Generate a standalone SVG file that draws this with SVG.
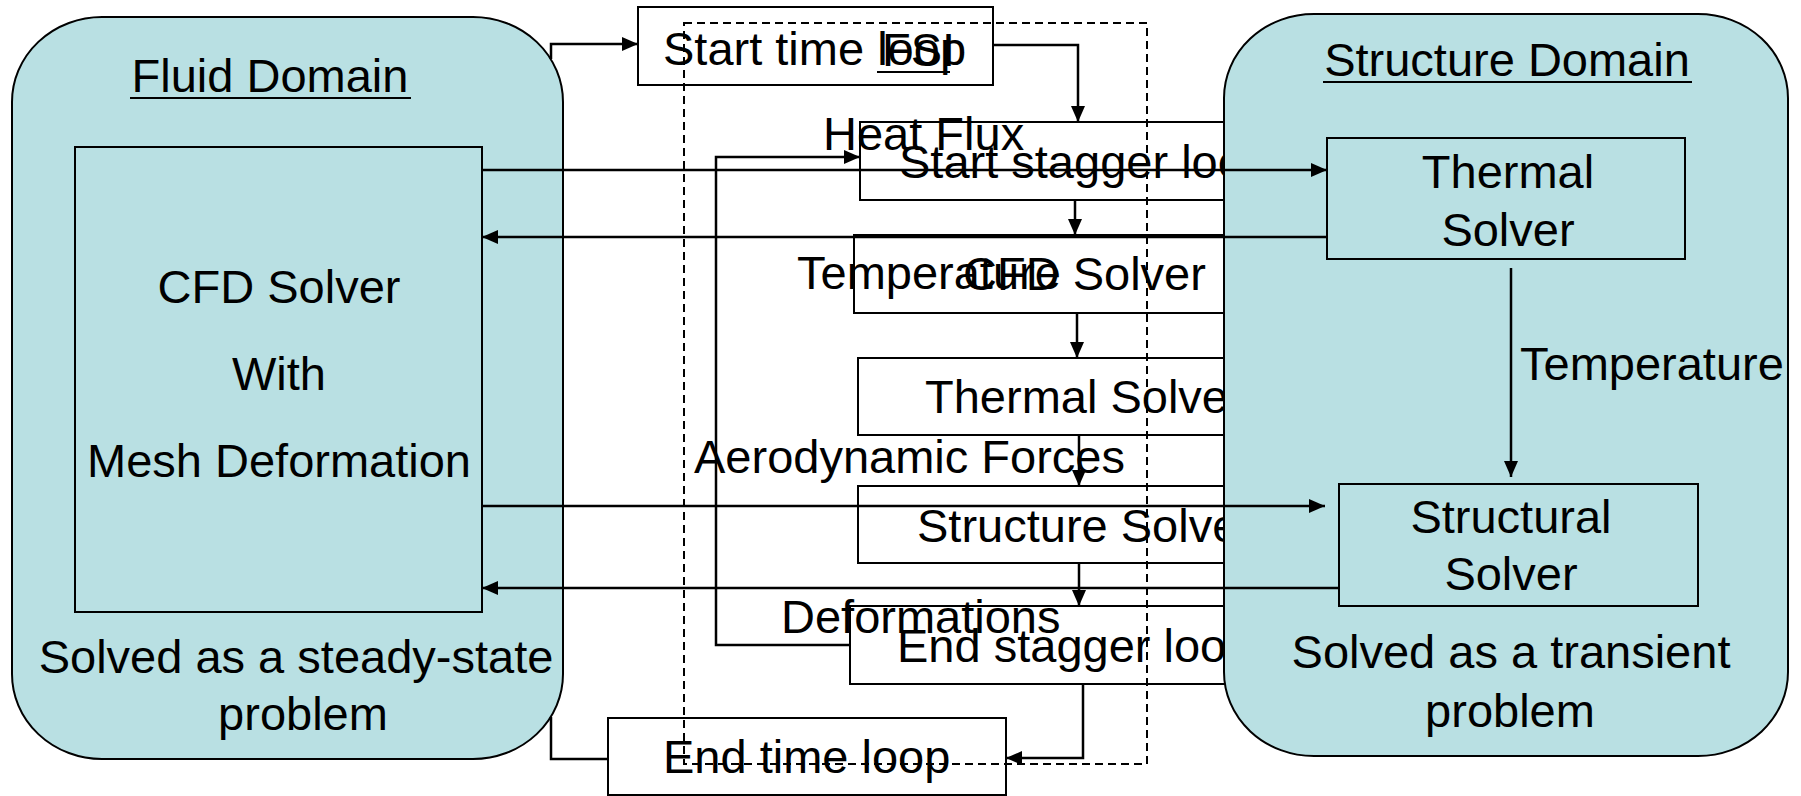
<svg xmlns="http://www.w3.org/2000/svg" width="1801" height="796" viewBox="0 0 1801 796">
  <defs>
    <marker id="arrow" markerUnits="userSpaceOnUse" markerWidth="16" markerHeight="14" refX="16" refY="7" orient="auto">
      <path d="M0,0 L16,7 L0,14 z" fill="#000"/>
    </marker>
    <style>
      text { font-family: "Liberation Sans", Arial, sans-serif; font-size: 47px; fill: #000; }
      .mid { text-anchor: middle; }
      .step { fill: #fff; stroke: #000; stroke-width: 2; }
      .domain { fill: #B9E0E3; stroke: #000; stroke-width: 2; }
      .solver { fill: #B9E0E3; stroke: #000; stroke-width: 2; }
      .wire { fill: none; stroke: #000; stroke-width: 2.5; }
      .wire-a { fill: none; stroke: #000; stroke-width: 2.5; marker-end: url(#arrow); }
      .uline { stroke: #000; stroke-width: 2; }
      .fsi-frame { fill: none; stroke: #000; stroke-width: 2; stroke-dasharray: 8 5; }
    </style>
  </defs>

  <!-- time / stagger loop steps (right ends run under the structure domain) -->
  <g id="start-time-loop">
    <rect class="step" x="638" y="7" width="355" height="78"/>
    <text x="663" y="65">Start time loop</text>
  </g>
  <g id="start-stagger-loop">
    <rect class="step" x="860" y="122" width="440" height="78"/>
    <text x="899" y="178">Start stagger loop</text>
  </g>
  <g id="cfd-step">
    <rect class="step" x="854" y="235" width="446" height="78"/>
    <text x="963" y="290">CFD Solver</text>
  </g>
  <g id="thermal-step">
    <rect class="step" x="858" y="358" width="442" height="77"/>
    <text x="925" y="413">Thermal Solver</text>
  </g>
  <g id="structure-step">
    <rect class="step" x="858" y="486" width="442" height="77"/>
    <text x="917" y="542">Structure Solver</text>
  </g>
  <g id="end-stagger-loop">
    <rect class="step" x="850" y="606" width="450" height="78"/>
    <text x="897" y="662">End stagger loop</text>
  </g>
  <g id="end-time-loop">
    <rect class="step" x="608" y="718" width="398" height="77"/>
    <text x="663" y="773">End time loop</text>
  </g>

  <!-- FSI coupling frame -->
  <g id="fsi">
    <rect class="fsi-frame" x="684" y="23" width="463" height="741"/>
    <text x="882" y="66">FSI</text>
    <line class="uline" x1="877" y1="72" x2="950" y2="72"/>
  </g>

  <!-- fluid side -->
  <g id="fluid-domain">
    <rect class="domain" x="12" y="17" width="551" height="742" rx="90" ry="85"/>
    <text class="mid" x="270" y="92">Fluid Domain</text>
    <line class="uline" x1="130" y1="98" x2="411" y2="98"/>
    <text class="mid" x="296" y="673">Solved as a steady-state</text>
    <text class="mid" x="303" y="730">problem</text>
  </g>
  <g id="cfd-solver">
    <rect class="solver" x="75" y="147" width="407" height="465"/>
    <text class="mid" x="279" y="303">CFD Solver</text>
    <text class="mid" x="279" y="390">With</text>
    <text class="mid" x="279" y="477">Mesh Deformation</text>
  </g>

  <!-- structure side -->
  <g id="structure-domain">
    <rect class="domain" x="1224" y="14" width="564" height="742" rx="90" ry="84"/>
    <text class="mid" x="1507" y="76">Structure Domain</text>
    <line class="uline" x1="1323" y1="82" x2="1692" y2="82"/>
    <text class="mid" x="1511" y="668">Solved as a transient</text>
    <text class="mid" x="1510" y="727">problem</text>
  </g>
  <g id="thermal-solver">
    <rect class="solver" x="1327" y="138" width="358" height="121"/>
    <text class="mid" x="1508" y="188">Thermal</text>
    <text class="mid" x="1508" y="246">Solver</text>
  </g>
  <g id="structural-solver">
    <rect class="solver" x="1339" y="484" width="359" height="122"/>
    <text class="mid" x="1511" y="533">Structural</text>
    <text class="mid" x="1511" y="590">Solver</text>
  </g>

  <!-- connectors -->
  <g id="connectors">
    <path class="wire-a" d="M551,59 V44 H638"/>
    <path class="wire-a" d="M993,45 H1078 V122"/>
    <path class="wire-a" d="M1075,200 V235"/>
    <path class="wire-a" d="M1077,313 V358"/>
    <path class="wire-a" d="M1079,435 V486"/>
    <path class="wire-a" d="M1079,563 V606"/>
    <path class="wire-a" d="M1083,684 V758 H1006"/>
    <path class="wire" d="M608,759 H551 V717"/>
    <path class="wire-a" d="M850,645 H716 V157 H860"/>
    <path class="wire-a" d="M482,170 H1327"/>
    <path class="wire-a" d="M1327,237 H482"/>
    <path class="wire-a" d="M482,506 H1325"/>
    <path class="wire-a" d="M1339,588 H482"/>
    <path class="wire-a" d="M1511,268 V477"/>
    <text x="823" y="150">Heat Flux</text>
    <text x="797" y="289">Temperature</text>
    <text x="694" y="473">Aerodynamic Forces</text>
    <text x="781" y="633">Deformations</text>
    <text x="1520" y="380">Temperature</text>
  </g>
</svg>
